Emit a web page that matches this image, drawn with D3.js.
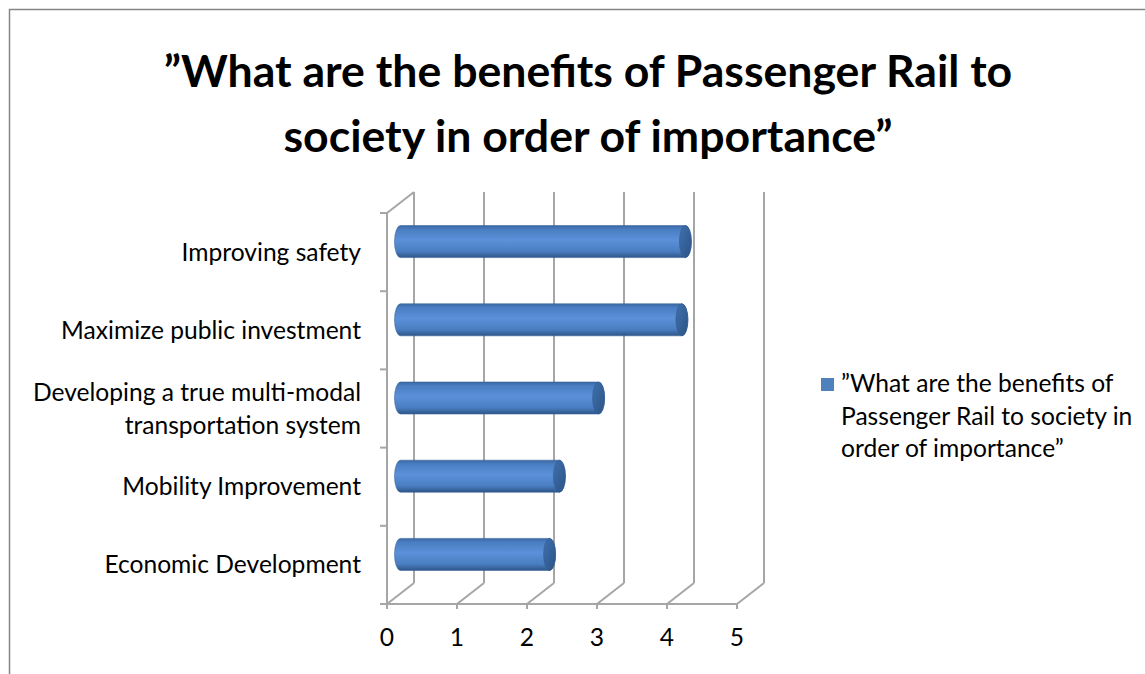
<!DOCTYPE html>
<html>
<head>
<meta charset="utf-8">
<script src="https://cdn.jsdelivr.net/npm/d3@7"></script>
<style>
  html, body { margin: 0; padding: 0; background: #fff; }
  svg { display: block; }
  text { font-family: Lato, "Open Sans", sans-serif; fill: #000; }
</style>
</head>
<body>
<svg id="chart" width="1145" height="674"></svg>
<script>
// Survey categories (top to bottom) and their mean importance scores
const categories = [
  "Improving safety",
  "Maximize public investment",
  "Developing a true multi-modal transportation system",
  "Mobility Improvement",
  "Economic Development"
];
const categoryLines = [
  ["Improving safety"],
  ["Maximize public investment"],
  ["Developing a true multi-modal", "transportation system"],
  ["Mobility Improvement"],
  ["Economic Development"]
];
const values = [4.07, 4.02, 2.83, 2.27, 2.13];
const xTicks = [0, 1, 2, 3, 4, 5];
const titleLines = ["\u201DWhat are the benefits of Passenger Rail to", "society in order of importance\u201D"];
const seriesName = ["\u201DWhat are the benefits of", "Passenger Rail to society in", "order of importance\u201D"];

const bodySize = 24.6;
const svg = d3.select("#chart");

// Outer chart-area frame
svg.append("rect")
  .attr("x", 9.5).attr("y", 9.5)
  .attr("width", 1200).attr("height", 720)
  .attr("fill", "none").attr("stroke", "#868686").attr("stroke-width", 1.5);

// Title
svg.append("g").selectAll("text").data(titleLines).join("text")
  .attr("x", 588).attr("y", (d, i) => 87 + i * 65)
  .attr("text-anchor", "middle")
  .attr("font-size", 44.6).attr("font-weight", 700)
  .text(d => d);

// Plot geometry (front floor plane plus depth offset for the 3-D walls)
const x = d3.scaleLinear().domain([0, 5]).range([387, 737]);
const y = d3.scaleBand().domain(categories).range([213, 604]);
const depth = { dx: 27, dy: -21 };
const gridColor = "#a6a6a6";

const walls = svg.append("g").attr("stroke", gridColor).attr("stroke-width", 2).attr("fill", "none");

// Back-wall vertical gridlines
walls.selectAll("line.grid").data(xTicks).join("line")
  .attr("class", "grid")
  .attr("x1", d => x(d) + depth.dx).attr("x2", d => x(d) + depth.dx)
  .attr("y1", y.range()[0] + depth.dy).attr("y2", y.range()[1] + depth.dy);

// Floor depth lines
walls.selectAll("line.floor").data(xTicks).join("line")
  .attr("class", "floor")
  .attr("x1", d => x(d)).attr("y1", y.range()[1])
  .attr("x2", d => x(d) + depth.dx).attr("y2", y.range()[1] + depth.dy);

// Left wall top edge
walls.append("line")
  .attr("x1", x(0)).attr("y1", y.range()[0])
  .attr("x2", x(0) + depth.dx).attr("y2", y.range()[0] + depth.dy);

// Front axes
walls.append("line")
  .attr("x1", x(0)).attr("x2", x(0))
  .attr("y1", y.range()[0]).attr("y2", y.range()[1]);
walls.append("line")
  .attr("x1", x(0)).attr("x2", x(5))
  .attr("y1", y.range()[1]).attr("y2", y.range()[1]);

// Category tick marks on the front vertical axis
const catBounds = categories.map(c => y(c)).concat([y.range()[1]]);
walls.selectAll("line.ytick").data(catBounds).join("line")
  .attr("class", "ytick")
  .attr("x1", x(0) - 7).attr("x2", x(0))
  .attr("y1", d => d).attr("y2", d => d);

// Value tick marks on the floor axis
walls.selectAll("line.xtick").data(xTicks).join("line")
  .attr("class", "xtick")
  .attr("x1", d => x(d)).attr("x2", d => x(d))
  .attr("y1", y.range()[1]).attr("y2", y.range()[1] + 5);

// Value tick labels
svg.append("g").selectAll("text").data(xTicks).join("text")
  .attr("x", d => x(d)).attr("y", 646)
  .attr("text-anchor", "middle").attr("font-size", bodySize)
  .text(d => d);

// Category labels
const labels = svg.append("g");
categories.forEach((c, i) => {
  const lines = categoryLines[i];
  const cy = y(c) + y.bandwidth() / 2;
  const lh = 33;
  lines.forEach((ln, j) => {
    labels.append("text")
      .attr("x", 361)
      .attr("y", cy + 8.5 + (j - (lines.length - 1) / 2) * lh)
      .attr("text-anchor", "end").attr("font-size", bodySize)
      .text(ln);
  });
});

// Cylinder shading
const defs = svg.append("defs");
const bodyGrad = defs.append("linearGradient").attr("id", "cylBody")
  .attr("x1", 0).attr("y1", 0).attr("x2", 0).attr("y2", 1);
[[0, "#3a68a3"], [0.12, "#4a7ec2"], [0.45, "#5b91d9"], [0.8, "#4a7ec2"], [1, "#2e5688"]]
  .forEach(([o, c]) => bodyGrad.append("stop").attr("offset", o).attr("stop-color", c));
const capGrad = defs.append("linearGradient").attr("id", "cylCap")
  .attr("x1", 0).attr("y1", 0).attr("x2", 1).attr("y2", 1);
[[0, "#3f70ad"], [1, "#2c5486"]]
  .forEach(([o, c]) => capGrad.append("stop").attr("offset", o).attr("stop-color", c));

// Cylinders sit midway into the depth of the plot
const barH = 32, r = barH / 2, rx = 6;
const bars = svg.append("g");
categories.forEach((c, i) => {
  const cy = y(c) + y.bandwidth() / 2 + depth.dy / 2;
  const x0 = x(0) + depth.dx / 2;
  const x1 = x(values[i]) + depth.dx / 2;
  bars.append("path")
    .attr("d", `M${x0},${cy - r} L${x1},${cy - r} A${rx},${r} 0 0 1 ${x1},${cy + r} L${x0},${cy + r} A${rx},${r} 0 0 1 ${x0},${cy - r} Z`)
    .attr("fill", "url(#cylBody)").attr("stroke", "#3b659b").attr("stroke-width", 0.6);
  bars.append("ellipse")
    .attr("cx", x1).attr("cy", cy).attr("rx", rx).attr("ry", r)
    .attr("fill", "url(#cylCap)").attr("stroke", "#355d91").attr("stroke-width", 0.6);
});

// Legend
const legend = svg.append("g");
legend.append("rect")
  .attr("x", 821).attr("y", 378).attr("width", 13).attr("height", 13)
  .attr("fill", "#4f81bd");
legend.selectAll("text").data(seriesName).join("text")
  .attr("x", 841).attr("y", (d, i) => 392 + i * 32.5)
  .attr("font-size", bodySize)
  .text(d => d);
</script>
</body>
</html>
